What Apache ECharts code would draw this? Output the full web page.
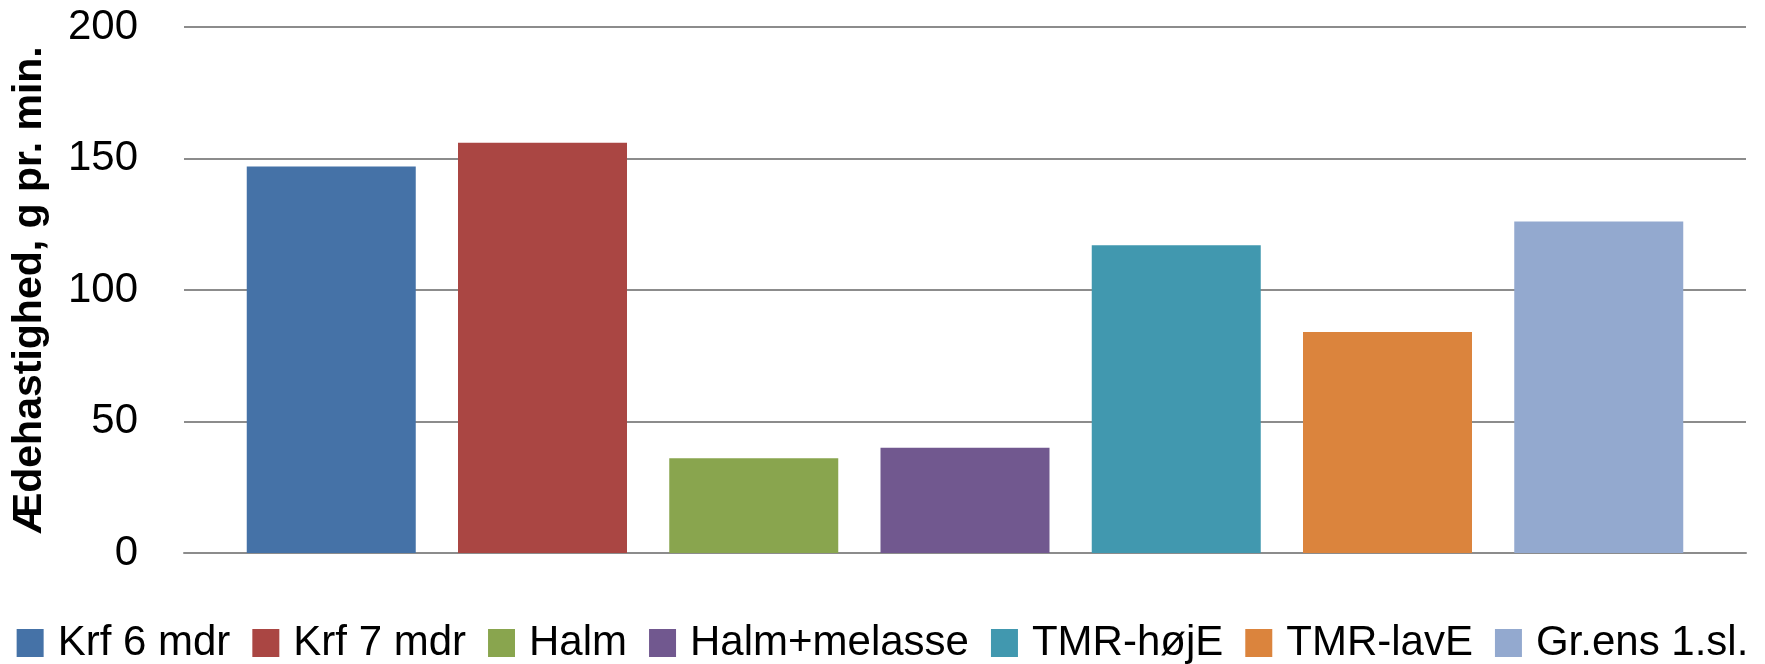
<!DOCTYPE html>
<html>
<head>
<meta charset="utf-8">
<script src="https://cdn.jsdelivr.net/npm/echarts@6/dist/echarts.min.js"></script>
<style>
html,body{margin:0;padding:0;background:#fff;}
#chart{width:1765px;height:664px;}
</style>
</head>
<body>
<div id="chart"></div>
<script>
const seriesNames = ['Krf 6 mdr','Krf 7 mdr','Halm','Halm+melasse','TMR-højE','TMR-lavE','Gr.ens 1.sl.'];
const seriesValues = [147, 156, 36, 40, 117, 84, 126];
const seriesColors = ['#4572A7','#AA4643','#89A54E','#71588F','#4198AF','#DB843D','#93A9CF'];
const yTicks = [0, 50, 100, 150, 200];
const yTitle = 'Ædehastighed, g pr. min.';

const FONT = '"Liberation Sans", Arial, sans-serif';
const chart = echarts.init(document.getElementById('chart'), null, {renderer:'canvas'});

const series = seriesNames.map((name, i) => ({
  name: name,
  type: 'bar',
  data: [seriesValues[i]],
  barWidth: 169,
  barGap: '25%',
  itemStyle: {color: seriesColors[i]},
  emphasis: {disabled: true},
  animation: false
}));

chart.setOption({
  animation: false,
  grid: {left: 184, right: 19, top: 27, bottom: 111, containLabel: false},
  xAxis: {
    type: 'category',
    data: [''],
    axisLine: {show: true, lineStyle: {color: '#8c8c8c', width: 2}},
    axisTick: {show: false},
    axisLabel: {show: false}
  },
  yAxis: {
    type: 'value',
    min: yTicks[0],
    max: yTicks[yTicks.length - 1],
    interval: 50,
    name: yTitle,
    nameLocation: 'middle',
    nameGap: 134,
    nameRotate: 90,
    nameTextStyle: {fontFamily: FONT, fontWeight: 'bold', fontSize: 41, color: '#000'},
    axisLine: {show: false},
    axisTick: {show: false},
    axisLabel: {fontFamily: FONT, fontSize: 42, color: '#000', margin: 46},
    splitLine: {show: true, lineStyle: {color: '#8c8c8c', width: 2}}
  },
  legend: {
    data: seriesNames,
    top: 617,
    left: 'center',
    icon: 'rect',
    itemWidth: 27,
    itemHeight: 28,
    itemGap: 22,
    textStyle: {fontFamily: FONT, fontSize: 42, color: '#000', padding: [0, 0, 0, 9]},
    selectedMode: false
  },
  series: series
});
</script>
</body>
</html>
